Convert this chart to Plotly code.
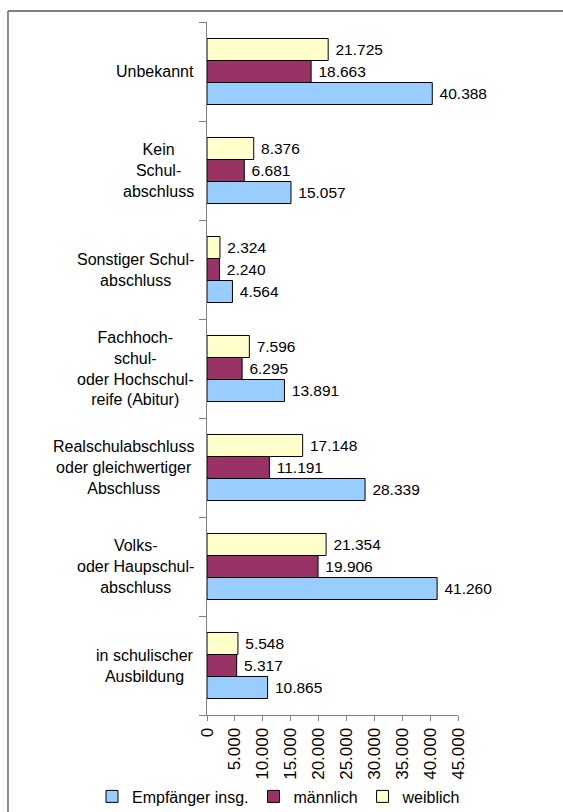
import plotly.graph_objects as go

categories = [
    "in schulischer<br>Ausbildung",
    "Volks-<br>oder Haupschul-<br>abschluss",
    "Realschulabschluss<br>oder gleichwertiger<br>Abschluss",
    "Fachhoch-<br>schul-<br>oder Hochschul-<br>reife (Abitur)",
    "Sonstiger Schul-<br>abschluss",
    "Kein<br>Schul-<br>abschluss",
    "Unbekannt",
]
empfaenger = [10865, 41260, 28339, 13891, 4564, 15057, 40388]
maennlich = [5317, 19906, 11191, 6295, 2240, 6681, 18663]
weiblich = [5548, 21354, 17148, 7596, 2324, 8376, 21725]
series_names = ["Empfänger insg.", "männlich", "weiblich"]
series_colors = ["#99CCFF", "#993366", "#FFFFCC"]
x_ticks = [0, 5000, 10000, 15000, 20000, 25000, 30000, 35000, 40000, 45000]

FONT = "Liberation Sans, Arial, sans-serif"

W, H = 563, 812
L, R, T, B = 207, 458, 22, 715
pw, ph = R - L, B - T


def px_x(v):
    return (v - L) / pw


def px_y(v):
    return (B - v) / ph


fig = go.Figure()
for name, vals, col in zip(series_names, [empfaenger, maennlich, weiblich], series_colors):
    fig.add_trace(go.Bar(
        y=categories, x=vals, name=name, orientation="h",
        marker=dict(color=col, line=dict(color="#000000", width=1)),
        texttemplate="\u00a0%{x:,.0f}", textposition="outside",
        textfont=dict(family=FONT, size=15.5, color="#000000"),
        cliponaxis=False,
    ))

annotations = []
for c in categories:
    annotations.append(dict(
        x=px_x(196), xref="paper", y=c, yref="y",
        text=c, showarrow=False, xanchor="right", yanchor="middle", align="center",
        font=dict(family=FONT, size=16, color="#000000"),
    ))

border = dict(color="#808080", width=1.8)
fig.update_layout(
    width=W, height=H,
    margin=dict(l=L, r=W - R, t=T, b=H - B, autoexpand=False),
    paper_bgcolor="white", plot_bgcolor="white",
    barmode="group", bargap=0.333, bargroupgap=0,
    separators=",.",
    font=dict(family=FONT, size=16, color="#000000"),
    showlegend=True,
    legend=dict(orientation="h", xref="paper", yref="paper",
                x=px_x(92), xanchor="left",
                y=px_y(796.5), yanchor="middle",
                font=dict(family=FONT, size=16, color="#000000"),
                itemwidth=30, traceorder="normal", bgcolor="rgba(0,0,0,0)",
                tracegroupgap=0),
    xaxis=dict(range=[0, 45000], tickvals=x_ticks, tickformat=",.0f", tickangle=-90,
               showgrid=False, zeroline=False, showline=True, linecolor="#808080", linewidth=1,
               ticks="outside", ticklen=5, tickcolor="#808080",
               tickfont=dict(family=FONT, size=17, color="#000000")),
    yaxis=dict(type="category", categoryarray=categories, showgrid=False, zeroline=False,
               showline=True, linecolor="#808080", linewidth=1,
               ticks="outside", ticklen=7, tickcolor="#808080", tickson="boundaries",
               showticklabels=False),
    annotations=annotations,
    shapes=[
        dict(type="line", xref="paper", yref="paper",
             x0=px_x(8), x1=px_x(8), y0=px_y(11), y1=px_y(H + 10), line=border),
        dict(type="line", xref="paper", yref="paper",
             x0=px_x(8), x1=px_x(W + 10), y0=px_y(11), y1=px_y(11), line=border),
    ],
)

fig.write_html(
    "out.html",
    config={"displayModeBar": False},
    post_script="document.body.style.margin='0';document.body.style.overflow='hidden';",
)
